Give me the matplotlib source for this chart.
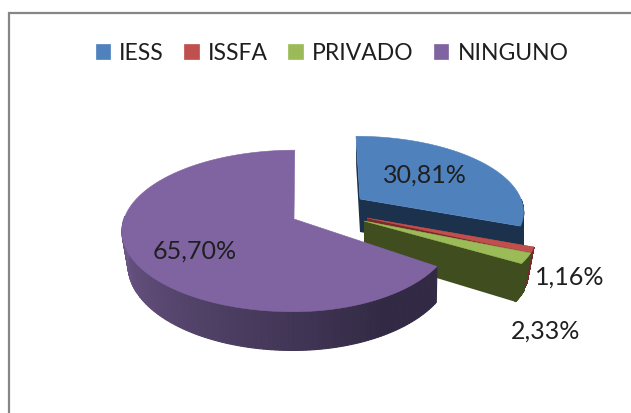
import numpy as np
import matplotlib
matplotlib.use("Agg")
import matplotlib.pyplot as plt
from matplotlib.patches import Patch, Rectangle

categories = ["IESS", "ISSFA", "PRIVADO", "NINGUNO"]
values = [30.81, 1.16, 2.33, 65.70]
top_colors = ["#4f81bd", "#c0504d", "#9bbb59", "#8064a2"]
face_colors = ["#1c324c", "#7a2a28", "#3f4d1f", "#322a44"]

# projection of each exploded slice: apex x, apex y, x scale right, x scale left, y scale, depth
geometry = [
    (360, 199, 161, 161, 72, 33),
    (367, 218, 167, 167, 77, 33),
    (364, 221, 170, 170, 71, 35),
    (294, 219, 158, 170, 79, 33),
]
right_taper = [0.005, 0.04, 0.04, 0.005]
left_taper = 0.035
label_pos = [(425, 175), (570, 277), (546, 331), (195, 251)]
persp = 0.148
vanish_x = [329, 329, 329, 300]

fig = plt.figure(figsize=(6.31, 4.13), dpi=100)
ax = fig.add_axes([0, 0, 1, 1])
ax.set_xlim(0, 631)
ax.set_ylim(413, 0)
ax.axis("off")
plt.rcParams["font.family"] = ["Lato", "DejaVu Sans"]

ax.add_patch(Rectangle((8.5, 13), 640, 420, fc="white", ec="#868686", lw=1.6, zorder=0))

def project(theta, geom, vx):
    ax0, ay0, sr, sl, sy, depth = geom
    X, Y = np.sin(theta), np.cos(theta)
    den = 1 + persp * Y
    sx = np.where(X >= 0, sr, sl)
    x = vx + (ax0 - vx + X * sx) / den
    y = ay0 - Y * sy / den
    return x, y, depth / den

def wall_color(t):
    frac = np.clip((t - np.radians(150)) / np.radians(115), 0, 1)
    dark = np.array(matplotlib.colors.to_rgb("#322a44"))
    light = np.array(matplotlib.colors.to_rgb("#6e5789"))
    return dark + (light - dark) * frac

fractions = np.array(values) / sum(values)
edges = np.concatenate([[0], np.cumsum(fractions)]) * 2 * np.pi

for i, (geom, vx) in enumerate(zip(geometry, vanish_x)):
    a0, a1 = edges[i], edges[i + 1]
    ts = np.linspace(a0, a1, 200)
    x, y, d = project(ts, geom, vx)
    apx, apy, *_ = geom
    depth = geom[5]
    xb = np.where(x < apx, x + left_taper * (apx - x), x - right_taper[i] * (x - apx))
    z = 2 + i
    # cut faces at the start and end of the slice
    if i < 3:
        ax.fill([apx, x[0], xb[0], apx], [apy, y[0], y[0] + d[0], apy + depth],
                color=face_colors[i], lw=0, zorder=z)
        ax.fill([apx, x[-1], xb[-1], apx], [apy, y[-1], y[-1] + d[-1], apy + depth],
                color=face_colors[i], lw=0, zorder=z)
    # outer wall, only the part that faces the viewer
    for j in range(len(ts) - 1):
        if not np.radians(90) <= ts[j] <= np.radians(272):
            continue
        c = wall_color(ts[j]) if i == 3 else face_colors[i]
        ax.fill([x[j], x[j + 1], xb[j + 1], xb[j]],
                [y[j], y[j + 1], y[j + 1] + d[j + 1], y[j] + d[j]],
                fc=c, ec=c, lw=0.8, zorder=z)
    # top surface
    ax.fill(np.r_[apx, x], np.r_[apy, y], fc=top_colors[i], ec=top_colors[i], lw=0.4, zorder=z + 0.5)

for v, (lx, ly) in zip(values, label_pos):
    ax.text(lx, ly, f"{v:.2f}%".replace(".", ","), ha="center", va="center",
            fontsize=18, color="#1f1f1f", zorder=10)

handles = [Patch(fc=c, ec=c, lw=0.5) for c in top_colors[:4]]
ax.legend(handles, categories, loc="center", bbox_to_anchor=(332 / 631, 1 - 53 / 413),
          ncol=4, frameon=False, fontsize=16.5, handlelength=0.62, handleheight=0.62,
          handletextpad=0.4, columnspacing=0.9, labelcolor="#1f1f1f")

fig.savefig("out.png", dpi=100)
